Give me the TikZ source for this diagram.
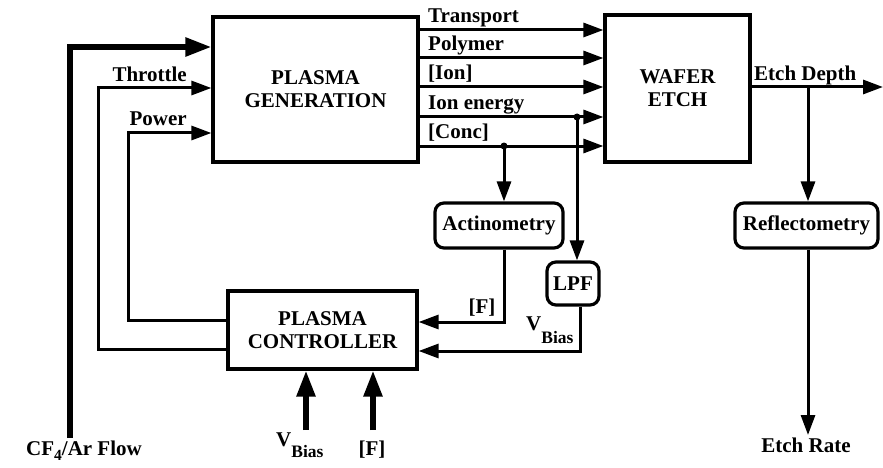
\documentclass[tikz,border=0pt]{standalone}
\usepackage{fontspec}
\setmainfont{Liberation Serif}
\usetikzlibrary{arrows.meta}
\newcommand\labfont{\bfseries\fontsize{21}{23}\selectfont}
\newcommand\subfnt{\fontsize{17.5}{17.5}\selectfont}
\tikzset{
 box/.style={draw, line width=3.2pt, rectangle, inner sep=0pt, align=center, font=\labfont},
 rbox/.style={draw, line width=3.2pt, rounded corners=9pt, inner sep=0pt, font=\labfont},
 ln/.style={line width=3pt},
 arr/.style={ln, -{Triangle[length=20pt,width=14pt]}},
 thk/.style={line width=5.5pt},
 tarr/.style={thk, -{Triangle[length=26pt,width=18pt]}},
 lbl/.style={inner sep=0pt, font=\labfont},
 jdot/.style={circle, fill, inner sep=0pt, minimum size=7pt}
}
\begin{document}
\begin{tikzpicture}[x=1pt,y=-1pt]
\useasboundingbox (0,0) rectangle (883,468);
% blocks
\node[box, minimum width=205pt, minimum height=145pt] (pg) at (315.5,89.5) {PLASMA\\GENERATION};
\node[box, minimum width=145pt, minimum height=147pt] (we) at (677.5,88.5) {WAFER\\ETCH};
\node[box, minimum width=189pt, minimum height=78pt] (pc) at (322.5,330) {PLASMA\\CONTROLLER};
\node[rbox, minimum width=128pt, minimum height=45pt] (act) at (499,225.5) {Actinometry};
\node[rbox, minimum width=52pt, minimum height=43pt] (lpf) at (573,283.5) {LPF};
\node[rbox, minimum width=143pt, minimum height=45pt] (ref) at (806.5,225.5) {Reflectometry};
% plasma outputs
\foreach \yy/\tt/\nn in {30/Transport/lt, 58/Polymer/lp, 87/{[Ion]}/li, 117/Ion energy/le, 146/{[Conc]}/lc}{
  \draw[arr] (pg.east |- 0,\yy) -- (we.west |- 0,\yy);
  \node[lbl, anchor=base west] (\nn) at (428,\yy-7) {\tt};
}
% junctions
\node[jdot] (d1) at (577,117) {};
\node[jdot] (d2) at (504,146) {};
\draw[arr] (d1.center) -- (d1.center |- lpf.north);
\draw[arr] (d2.center) -- (d2.center |- act.north);
% actinometry -> controller
\coordinate (a1) at (504,322);
\draw[arr] (act.south -| a1) -- (a1) -- (pc.east |- a1);
\node[lbl, anchor=base] (fl) at (482,313) {[F]};
% LPF -> controller
\coordinate (l1) at (580,351);
\draw[arr] (lpf.south -| l1) -- (l1) -- (pc.east |- l1);
\node[lbl, anchor=base west] (vbl) at (526,330) {V\raisebox{-13pt}{\subfnt Bias}};
% etch depth
\coordinate (ed) at (883,87);
\draw[arr] (we.east |- ed) -- (ed);
\node[lbl, anchor=base west] (edl) at (754,81) {Etch Depth};
\coordinate (j) at (808,87);
\draw[arr] (j) -- (j |- ref.north);
\coordinate (er) at (808,435);
\draw[arr] (ref.south -| er) -- (er);
\node[lbl, anchor=base] (erl) at (806,452) {Etch Rate};
% inputs to plasma generation
\coordinate (cf) at (70,438);
\coordinate (cfc) at (70,47);
\draw[tarr] (cf) -- (cfc) -- (pg.west |- cfc);
\node[lbl, anchor=base west] (cfl) at (26,455) {CF\raisebox{-5pt}{\fontsize{15.5}{15.5}\selectfont 4}/Ar Flow};
\coordinate (t1) at (98,349);
\coordinate (t2) at (98,88);
\draw[arr] (pc.west |- t1) -- (t1) -- (t2) -- (pg.west |- t2);
\node[lbl, anchor=base east] (tl) at (187,82) {Throttle};
\coordinate (p1) at (128,320);
\coordinate (p2) at (128,133);
\draw[arr] (pc.west |- p1) -- (p1) -- (p2) -- (pg.west |- p2);
\node[lbl, anchor=base east] (pl) at (187,125) {Power};
% external controller inputs
\coordinate (vb) at (306,430);
\draw[tarr] (vb) -- (vb |- pc.south);
\node[lbl, anchor=base west] (vbb) at (276,446) {V\raisebox{-11pt}{\subfnt Bias}};
\coordinate (fb) at (373,430);
\draw[tarr] (fb) -- (fb |- pc.south);
\node[lbl, anchor=base] (fbb) at (372,455) {[F]};
\end{tikzpicture}
\end{document}
